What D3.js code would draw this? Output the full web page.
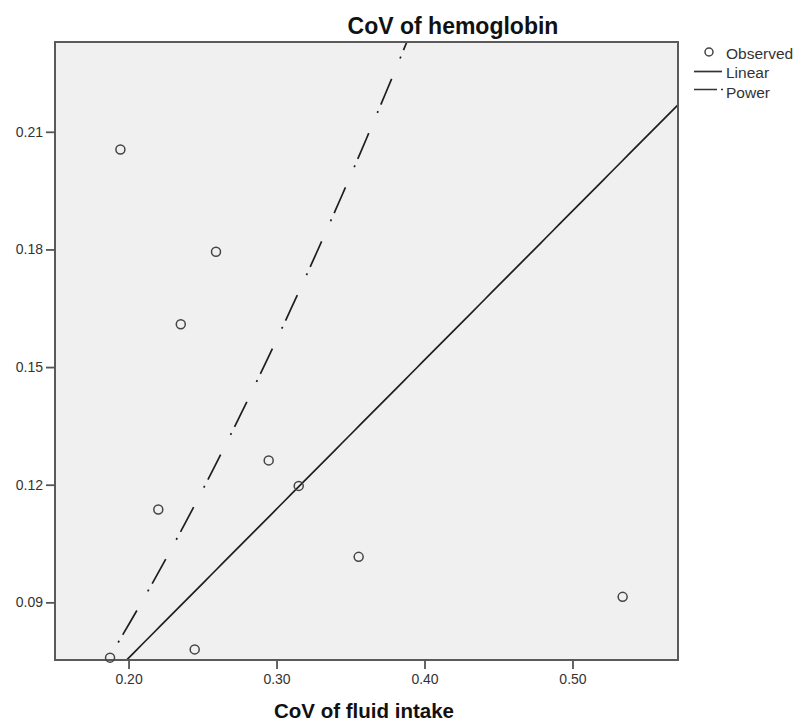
<!DOCTYPE html>
<html>
<head>
<meta charset="UTF-8">
<script src="https://d3js.org/d3.v7.min.js"></script>
<style>
  body { margin: 0; background: #fff; }
  svg { font-family: "Liberation Sans", Arial, sans-serif; }
  .axis .tick text { fill: #333; font-size: 14px; }
  .axis .tick line { stroke: #555; stroke-width: 1.8; }
  .axis .domain { display: none; }
</style>
</head>
<body>
<svg class="chart"></svg>
<script>

var width = 796,
    height = 722,
    plotLeft = 55,
    plotRight = 678,
    plotTop = 42,
    plotBottom = 660;

// observed values: CoV of fluid intake vs CoV of hemoglobin
var fluidCoV = [0.1945, 0.2591, 0.2353, 0.2947, 0.3150, 0.2201, 0.3555, 0.5339, 0.2447, 0.1875];
var hemoCoV  = [0.2055, 0.1794, 0.1609, 0.1262, 0.1197, 0.1137, 0.1016, 0.0914, 0.0780, 0.0759];

// fitted curves
var linearFit = [-0.0002, 0.380];   // b0, b1
var powerFit  = [0.995, 1.534];     // a, b  (y = a * x^b)

var xTicks = [0.20, 0.30, 0.40, 0.50];
var yTicks = [0.09, 0.12, 0.15, 0.18, 0.21];
var legendItems = ["Observed", "Linear", "Power"];

var chart = d3.select(".chart")
              .attr("width", width)
              .attr("height", height);

var x = d3.scaleLinear().domain([0.1503, 0.5713]).range([plotLeft, plotRight]);
var y = d3.scaleLinear().domain([0.0753, 0.2329]).range([plotBottom, plotTop]);

chart.append("defs").append("clipPath").attr("id", "plotclip")
     .append("rect")
     .attr("x", plotLeft).attr("y", plotTop)
     .attr("width", plotRight - plotLeft).attr("height", plotBottom - plotTop);

chart.append("rect")
     .attr("x", plotLeft).attr("y", plotTop)
     .attr("width", plotRight - plotLeft).attr("height", plotBottom - plotTop)
     .attr("fill", "#f0f0f0");

// fit lines
var fitg = chart.append("g").attr("clip-path", "url(#plotclip)");

var xs = d3.range(0, 101).map(function(i) {
    return x.domain()[0] + (x.domain()[1] - x.domain()[0]) * i / 100;
});

var line = d3.line()
             .x(function(d) { return x(d[0]); })
             .y(function(d) { return y(d[1]); });

fitg.append("path")
    .datum(xs.map(function(v) { return [v, linearFit[0] + linearFit[1] * v]; }))
    .attr("d", line)
    .attr("fill", "none")
    .attr("stroke", "#1e1e1e")
    .attr("stroke-width", 1.7);

fitg.append("path")
    .datum(xs.map(function(v) { return [v, powerFit[0] * Math.pow(v, powerFit[1])]; }))
    .attr("d", line)
    .attr("fill", "none")
    .attr("stroke", "#1e1e1e")
    .attr("stroke-width", 1.7)
    .attr("stroke-dasharray", "2,7,28,22");

// frame
chart.append("rect")
     .attr("x", plotLeft).attr("y", plotTop)
     .attr("width", plotRight - plotLeft).attr("height", plotBottom - plotTop)
     .attr("fill", "none")
     .attr("stroke", "#5a5a5a")
     .attr("stroke-width", 2);

// axes
chart.append("g")
     .attr("class", "axis")
     .attr("transform", "translate(0," + plotBottom + ")")
     .call(d3.axisBottom(x).tickValues(xTicks).tickFormat(d3.format(".2f")).tickSize(9).tickPadding(5));

chart.append("g")
     .attr("class", "axis")
     .attr("transform", "translate(" + plotLeft + ",0)")
     .call(d3.axisLeft(y).tickValues(yTicks).tickFormat(d3.format(".2f")).tickSize(9).tickPadding(3));

// points
chart.append("g")
     .selectAll("circle")
     .data(fluidCoV)
     .enter().append("circle")
     .attr("cx", function(d) { return x(d); })
     .attr("cy", function(d, i) { return y(hemoCoV[i]); })
     .attr("r", 4.5)
     .attr("fill", "none")
     .attr("stroke", "#444")
     .attr("stroke-width", 1.5);

// titles
chart.append("text")
     .attr("x", 453).attr("y", 34)
     .attr("text-anchor", "middle")
     .attr("font-weight", "bold")
     .attr("font-size", 23)
     .attr("fill", "#111")
     .text("CoV of hemoglobin");

chart.append("text")
     .attr("x", 364).attr("y", 718)
     .attr("text-anchor", "middle")
     .attr("font-weight", "bold")
     .attr("font-size", 20.5)
     .attr("fill", "#111")
     .text("CoV of fluid intake");

// legend
var legend = chart.append("g").attr("transform", "translate(694,52)");

legend.append("circle")
      .attr("cx", 15).attr("cy", 0).attr("r", 4)
      .attr("fill", "none").attr("stroke", "#444").attr("stroke-width", 1.5);

legend.append("line")
      .attr("x1", 0).attr("x2", 28).attr("y1", 19.5).attr("y2", 19.5)
      .attr("stroke", "#333").attr("stroke-width", 1.7);

legend.append("line")
      .attr("x1", 0).attr("x2", 29).attr("y1", 37.5).attr("y2", 37.5)
      .attr("stroke", "#333").attr("stroke-width", 1.7)
      .attr("stroke-dasharray", "23,4,2,10");

legend.selectAll("text")
      .data(legendItems)
      .enter().append("text")
      .attr("x", 32)
      .attr("y", function(d, i) { return 6.5 + i * 19.5; })
      .attr("font-size", 15.5)
      .attr("fill", "#333")
      .text(function(d) { return d; });

</script>
</body>
</html>
